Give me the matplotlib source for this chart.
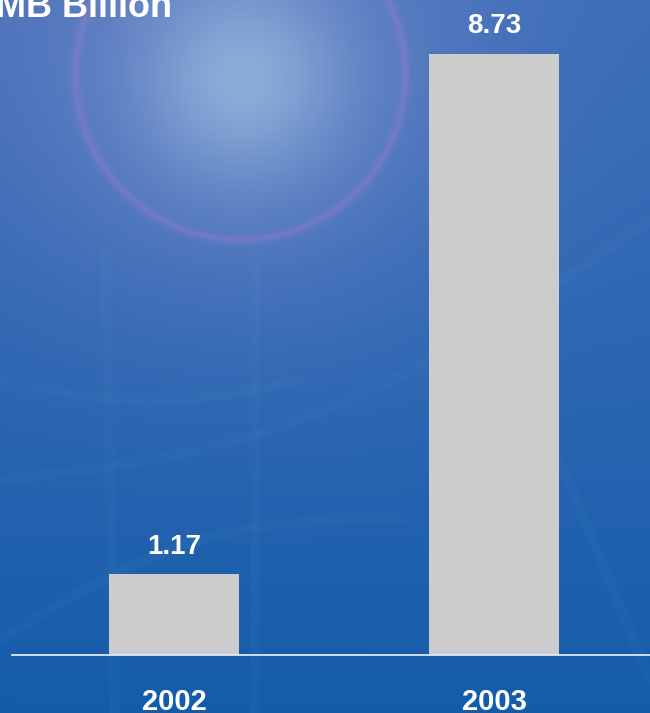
import numpy as np
import matplotlib
matplotlib.use("Agg")
import matplotlib.pyplot as plt

# Data
categories = ["2002", "2003"]
values = [1.17, 8.73]
title_text = "RMB Billion"

W, H = 650, 713
plt.rcParams["font.family"] = ["Liberation Sans", "DejaVu Sans"]

# ---- Background: blue gradient with a soft glow and a halo ring ----
yy, xx = np.mgrid[0:H, 0:W].astype(float)
t = (yy / H)[..., None]
s = (xx / W)[..., None]
top = np.array([70, 112, 185]) / 255
bottom = np.array([20, 92, 170]) / 255
right_tint = np.array([30, 104, 180]) / 255
img = top * (1 - t) + bottom * t
img = img * (1 - 0.25 * s * (1 - t)) + right_tint * 0.25 * s * (1 - t)

d = np.sqrt((xx - 242) ** 2 + (yy - 78) ** 2)
halo = (0.6 * np.exp(-(d / 230) ** 2))[..., None]
lilac = np.array([128, 142, 206]) / 255
img = img * (1 - halo) + lilac * halo
core = (0.75 * np.exp(-(d / 95) ** 2))[..., None]
core_col = np.array([150, 188, 222]) / 255
img = img * (1 - core) + core_col * core

r = np.sqrt((xx - 240) ** 2 + (yy - 74) ** 2)
ring = (0.33 * np.exp(-((r - 165) / 4.5) ** 2))[..., None]
ring_col = np.array([168, 125, 205]) / 255
img = img * (1 - ring) + ring_col * ring
img = np.clip(img, 0, 1)

fig = plt.figure(figsize=(W / 100, H / 100), dpi=100)
bg = fig.add_axes([0, 0, 1, 1])
bg.imshow(img, extent=[0, W, H, 0], aspect="auto", interpolation="bilinear")
bg.set_xlim(0, W)
bg.set_ylim(H, 0)
bg.axis("off")

# faint network-style streaks in the backdrop
streak = dict(color="#5fb0d8", alpha=0.05, lw=7, solid_capstyle="round")
u = np.linspace(0, 1, 200)
bg.plot(0 + 650 * u, 480 - 260 * u + 60 * np.sin(np.pi * u), **streak)
bg.plot(0 + 400 * u, 640 - 120 * u - 40 * np.sin(np.pi * u), **streak)
bg.plot(560 + 90 * u, 460 + 220 * u, **streak)
bg.plot(0 + 300 * u, 380 + 20 * np.sin(np.pi * u), **streak)
bg.plot(105 + 10 * u, 250 + 463 * u, **streak)
bg.plot(255 + 0 * u, 250 + 463 * u, **streak)

# ---- Bars ----
ax = fig.add_axes([0, 58 / H, 1, 655 / H])
ax.patch.set_alpha(0)
x = np.arange(len(categories))
ax.bar(x, values, width=0.4056, color="#cccccc", zorder=2)
ax.set_xlim(-0.5429, 1.4852)
ax.set_ylim(0, 9.514)
ax.axis("off")
ax.axhline(0, xmin=12 / W, xmax=1, color="#dde8f5", lw=1.3, clip_on=False, zorder=3)

px = 72 / 100  # points per pixel
for xi, v in zip(x, values):
    ax.annotate(f"{v:.2f}", (xi, v), xytext=(0, 20.5 * px), textcoords="offset points",
                ha="center", va="baseline", fontsize=20, fontweight="bold", color="white")
for xi, c in zip(x, categories):
    ax.annotate(c, (xi, 0), xytext=(0, -55 * px), textcoords="offset points",
                ha="center", va="baseline", fontsize=21, fontweight="bold", color="white",
                annotation_clip=False)

fig.text(-30 / W, 1 - 17 / H, title_text, ha="left", va="baseline",
         fontsize=26, fontweight="bold", color="white")

fig.savefig("out.png", dpi=100)
